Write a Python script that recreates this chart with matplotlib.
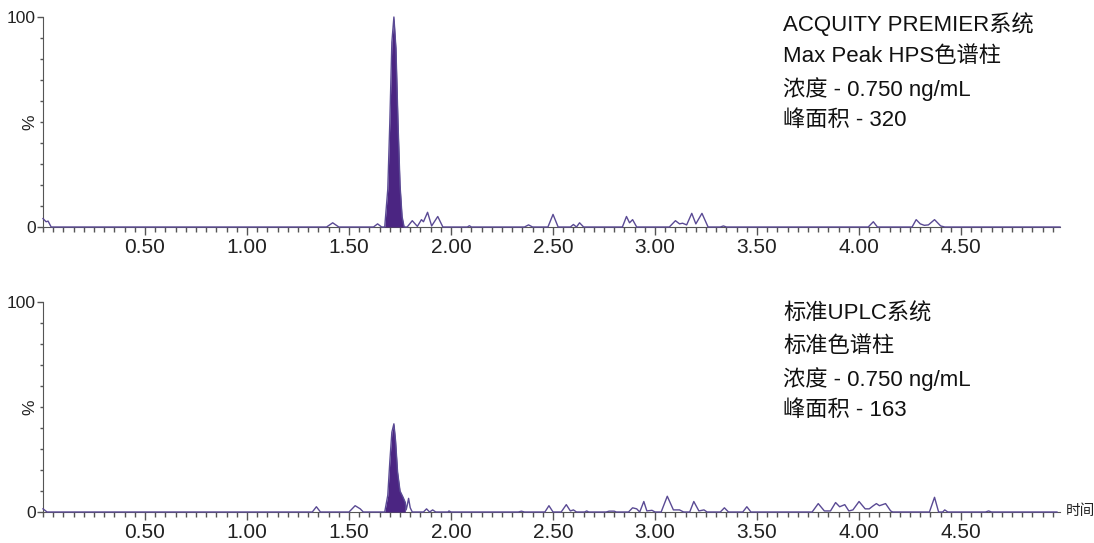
import matplotlib.pyplot as plt
import numpy as np
from matplotlib.ticker import MultipleLocator, FixedLocator

plt.rcParams['font.family'] = ['Liberation Sans', 'Noto Sans CJK SC', 'DejaVu Sans']

# top chromatogram (ACQUITY PREMIER), time in min, intensity in %
top_time = [0.00, 0.015, 0.025, 0.04,
            1.39, 1.42, 1.45, 1.62, 1.64, 1.66,
            1.675, 1.69, 1.70, 1.71, 1.72, 1.73, 1.74, 1.75, 1.76, 1.77,
            1.785, 1.81, 1.835, 1.855, 1.865, 1.885, 1.905, 1.935, 1.96,
            2.08, 2.09, 2.10, 2.36, 2.38, 2.40,
            2.475, 2.50, 2.525, 2.585, 2.60, 2.615, 2.63, 2.65,
            2.84, 2.86, 2.875, 2.89, 2.91,
            3.07, 3.10, 3.12, 3.135, 3.155, 3.18, 3.20, 3.23, 3.26,
            3.32, 3.335, 3.35,
            4.045, 4.07, 4.09,
            4.26, 4.28, 4.30, 4.32, 4.34, 4.37, 4.40, 4.42, 4.985]
top_signal = [4, 2.5, 2.8, 0,
              0, 2, 0, 0, 1.5, 0,
              0, 18, 50, 88, 100, 85, 50, 20, 5, 0,
              0, 3, 0.3, 3.5, 2.5, 7, 0.5, 5, 0,
              0, 0.6, 0, 0, 1, 0,
              0, 6, 0, 0, 1.2, 0, 2, 0,
              0, 5, 2, 3.5, 0,
              0, 3, 1.5, 1.8, 1, 6.5, 1.5, 6.5, 0,
              0, 0.5, 0,
              0, 2.5, 0,
              0, 3.5, 1.5, 0.8, 1, 3.5, 0.5, 0, 0]
top_fill = (1.675, 1.77)

# bottom chromatogram (standard UPLC)
bottom_time = [0.00, 0.02,
               1.32, 1.34, 1.36, 1.50, 1.53, 1.555, 1.57,
               1.675, 1.69, 1.70, 1.71, 1.72, 1.728, 1.738, 1.75, 1.765, 1.776,
               1.78, 1.785, 1.792, 1.80, 1.81,
               1.865, 1.88, 1.895, 1.91, 1.925, 1.985, 1.99, 2.00,
               2.33, 2.345, 2.36, 2.46, 2.48, 2.50,
               2.54, 2.565, 2.585, 2.60, 2.615, 2.655, 2.665, 2.675,
               2.76, 2.775, 2.80, 2.81,
               2.87, 2.89, 2.91, 2.925, 2.945, 2.96, 2.985, 3.00,
               3.03, 3.06, 3.09, 3.12, 3.14, 3.17, 3.19, 3.215, 3.24, 3.255,
               3.32, 3.34, 3.36, 3.43, 3.45, 3.47,
               3.77, 3.80, 3.83, 3.86, 3.885, 3.905, 3.93, 3.95, 3.97, 4.00,
               4.03, 4.05, 4.07, 4.085, 4.10, 4.115, 4.13, 4.155, 4.165,
               4.345, 4.37, 4.39, 4.41, 4.42, 4.435,
               4.62, 4.635, 4.65, 4.97]
bottom_signal = [1.5, 0,
                 0, 2.5, 0, 0, 3, 1.5, 0,
                 0, 8, 24, 38, 42, 34, 19, 10, 7, 4.5,
                 1, 3, 6.5, 2, 0,
                 0, 1.5, 0, 1, 0, 0, 0.5, 0,
                 0, 0.4, 0, 0, 3, 0,
                 0, 3.5, 0.5, 1, 0, 0, 0.5, 0,
                 0, 0.4, 0.4, 0,
                 0, 2, 1.5, 0, 5, 0.5, 0.8, 0,
                 0, 7.5, 1, 1, 0, 0, 5, 0.5, 1, 0,
                 0, 2, 0, 0, 2.5, 0,
                 0, 4, 0.5, 0.5, 4.5, 2.5, 3.5, 0.5, 1, 5,
                 1.5, 1.5, 3, 4, 3, 3.5, 4, 0.5, 0,
                 0, 7, 0, 0, 1, 0,
                 0, 0.5, 0, 0]
bottom_fill = (1.675, 1.776)

top_text = ['ACQUITY PREMIER系统', 'Max Peak HPS色谱柱', '浓度 - 0.750 ng/mL', '峰面积 - 320']
bottom_text = ['标准UPLC系统', '标准色谱柱', '浓度 - 0.750 ng/mL', '峰面积 - 163']

line_color = '#5a4a94'
fill_color = '#4b2582'
axis_color = '#555555'

W, H = 1094, 543
fig = plt.figure(figsize=(W / 100, H / 100), dpi=100)


def style_axis(ax, xmax):
    ax.spines['top'].set_visible(False)
    ax.spines['right'].set_visible(False)
    ax.spines['left'].set_color(axis_color)
    ax.spines['bottom'].set_color(axis_color)
    ax.set_xlim(0, xmax)
    ax.set_ylim(0, 100)
    ax.xaxis.set_major_locator(FixedLocator([0.5, 1.0, 1.5, 2.0, 2.5, 3.0, 3.5, 4.0, 4.5]))
    ax.xaxis.set_minor_locator(MultipleLocator(0.05))
    ax.set_xticklabels(['0.50', '1.00', '1.50', '2.00', '2.50', '3.00', '3.50', '4.00', '4.50'])
    ax.yaxis.set_major_locator(FixedLocator([0, 100]))
    ax.yaxis.set_minor_locator(MultipleLocator(10))
    ax.set_yticklabels(['0', '100'])
    ax.tick_params(axis='x', which='major', length=6, width=1, color=axis_color,
                   labelsize=15, pad=2, labelcolor='#222222')
    ax.tick_params(axis='x', which='minor', length=3.5, width=1, color=axis_color)
    ax.tick_params(axis='y', which='major', length=4, width=1, color=axis_color,
                   labelsize=12.5, pad=1, labelcolor='#222222')
    ax.tick_params(axis='y', which='minor', length=2.5, width=1, color=axis_color)
    ax.text(-0.006, 0.5, '%', transform=ax.transAxes, rotation=90, fontsize=12.5,
            ha='right', va='center', color='#222222')


def draw_trace(ax, t, y, fill_range):
    t = np.array(t)
    y = np.array(y)
    mask = (t >= fill_range[0]) & (t <= fill_range[1])
    ax.fill_between(t[mask], y[mask], 0, color=fill_color, lw=0, zorder=3)
    ax.plot(t, y, color=line_color, lw=1.0, zorder=4, clip_on=False)


# top panel
ax1 = fig.add_axes([43 / W, 1 - 227 / H, (1060 - 43) / W, 210 / H])
style_axis(ax1, 4.985)
draw_trace(ax1, top_time, top_signal, top_fill)
for i, s in enumerate(top_text):
    fig.text(783 / W, 1 - (24 + i * 32.3) / H, s, fontsize=16, ha='left', va='center', color='#111111')

# bottom panel
ax2 = fig.add_axes([43 / W, 1 - 512 / H, (1060 - 43) / W, 210 / H])
style_axis(ax2, 4.985)
draw_trace(ax2, bottom_time, bottom_signal, bottom_fill)
for i, s in enumerate(bottom_text):
    fig.text(783 / W, 1 - (314 + i * 32.3) / H, s, fontsize=16, ha='left', va='center', color='#111111')
fig.text(1066 / W, 1 - 511 / H, '时间', fontsize=10.5, ha='left', va='center', color='#222222')

fig.savefig('out.png', dpi=100)
